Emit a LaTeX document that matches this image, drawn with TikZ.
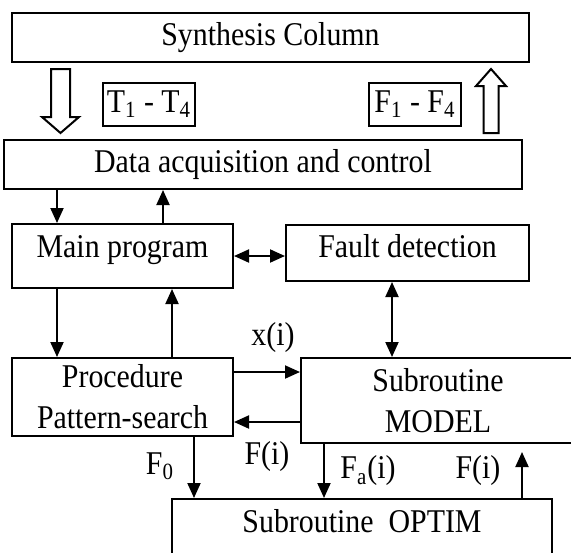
\documentclass[tikz,border=0pt]{standalone}
\usepackage{fontspec}
\setmainfont{Liberation Serif}[FakeStretch=0.9]
\usetikzlibrary{arrows.meta}

\begin{document}
\begin{tikzpicture}
  [x=0.5pt,y=-0.5pt,line width=1pt,
   every node/.style={font=\fontsize{16.6}{20.5}\selectfont,inner sep=0pt},
   blk/.style={draw,rectangle,align=center},
   sig/.style={-{Triangle[length=7.5pt,width=6.5pt]}},
   sigs/.style={{Triangle[length=7.5pt,width=6.5pt]}-{Triangle[length=7.5pt,width=6.5pt]}}]
  \useasboundingbox (0,0) rectangle (571,552);
  \clip (0,0) rectangle (571,552);

  \node[blk,minimum width=258.5pt,minimum height=24.5pt] (synth) at (270.5,37.5) {Synthesis Column};
  \node[blk,minimum width=46pt,minimum height=21.5pt] (tbox) at (149,104.5) {T\textsubscript{1} - T\textsubscript{4}};
  \node[blk,minimum width=46pt,minimum height=21.5pt] (fbox) at (415,104.5) {F\textsubscript{1} - F\textsubscript{4}};
  \node[blk,minimum width=259pt,minimum height=24.5pt] (data) at (263,164.5) {Data acquisition and control};
  \node[blk,minimum width=110.5pt,minimum height=32pt,text depth=9.6pt] (mainp) at (122.5,256) {Main program};
  \node[blk,minimum width=121.5pt,minimum height=28pt,text depth=7pt] (fault) at (407.5,253) {Fault detection};
  \node[blk,minimum width=110.5pt,minimum height=39pt] (proc) at (122.5,397) {Procedure\\Pattern-search};
  \node[blk,minimum width=137pt,minimum height=42.5pt] (model) at (438,400.5) {Subroutine\\MODEL};
  \node[blk,minimum width=190pt,minimum height=30.5pt,text depth=8.5pt] (optim) at (362,529.5) {Subroutine~ OPTIM};

  % signal labels
  \node (lxi) at (273,338) {x(i)};
  \node (lfo) at (160,466) {F\textsubscript{0}};
  \node (lfi) at (267,457) {F(i)};
  \node (lfa) at (368,471) {F\textsubscript{a}(i)};
  \node (lfr) at (478,471) {F(i)};

  % hollow arrows
  \draw (51,69) -- (70,69) -- (70,117) -- (79,117) -- (60.5,133) -- (42,117) -- (51,117) -- cycle;
  \draw (483.5,133) -- (498.5,133) -- (498.5,86) -- (506,86) -- (491,69) -- (476,86) -- (483.5,86) -- cycle;

  \draw[sig] (57,0 |- data.south) -- (57,0 |- mainp.north);
  \draw[sig] (163,0 |- mainp.north) -- (163,0 |- data.south);
  \draw[sigs] (mainp.east) -- (mainp.east -| fault.west);
  \draw[sig] (57,0 |- mainp.south) -- (57,0 |- proc.north);
  \draw[sig] (172,0 |- proc.north) -- (172,0 |- mainp.south);
  \draw[sigs] (392,0 |- fault.south) -- (392,0 |- model.north);
  \draw[sig] (proc.east |- 0,372) -- (model.west |- 0,372);
  \draw[sig] (model.west |- 0,422) -- (proc.east |- 0,422);
  \draw[sig] (194,0 |- proc.south) -- (194,0 |- optim.north);
  \draw[sig] (324,0 |- model.south) -- (324,0 |- optim.north);
  \draw[sig,shorten >=4pt] (522,0 |- optim.north) -- (522,0 |- model.south);

\end{tikzpicture}
\end{document}
